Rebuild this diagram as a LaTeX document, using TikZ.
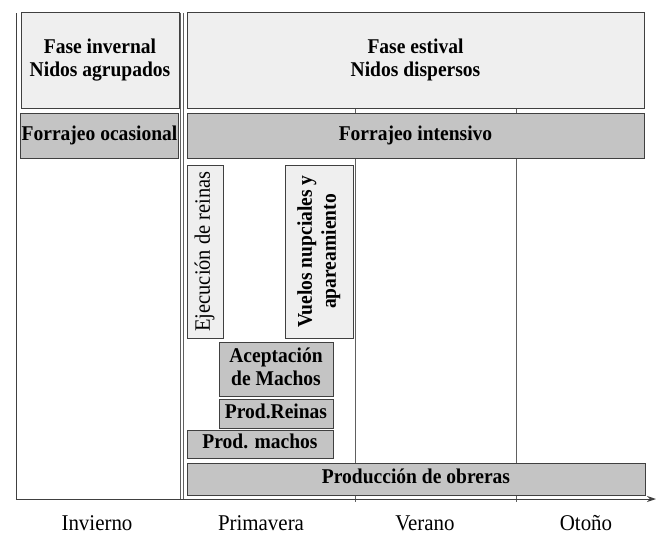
\documentclass[tikz,border=0pt]{standalone}
\usepackage{graphicx}
\usepackage{fontspec}
\setmainfont{Liberation Serif}
\usetikzlibrary{arrows.meta}
\definecolor{lightbox}{HTML}{EFEFEF}
\definecolor{graybox}{HTML}{C4C4C4}
\definecolor{edge}{HTML}{404040}
\definecolor{divider}{HTML}{606060}
\newcommand{\sqz}[1]{\scalebox{0.93}[1]{\begin{tabular}{@{}c@{}}#1\end{tabular}}}
\newcommand{\sqzl}[1]{\raisebox{-1.5pt}{\sqz{#1}}}
\tikzset{
  box/.style={draw=edge, line width=1pt, inner sep=0pt, align=center,
    font=\fontsize{21}{23}\selectfont\bfseries},
  lightfill/.style={box, fill=lightbox},
  grayfill/.style={box, fill=graybox},
  season/.style={inner sep=0pt, font=\fontsize{22.5}{25}\selectfont},
  divline/.style={draw=divider, line width=0.8pt},
}
\begin{document}
\begin{tikzpicture}[x=1pt,y=-1pt]
\useasboundingbox (0,0) rectangle (659,536);
% frame lines
\coordinate (ltop) at (16,13);
\coordinate (lbot) at (16,499);
\coordinate (d1top) at (180,13);
\coordinate (d1bot) at (180,499);
\coordinate (d2top) at (183,13);
\coordinate (d2bot) at (183,499);
\coordinate (vtop) at (355,108);
\coordinate (vbot) at (355,502);
\coordinate (otop) at (516,108);
\coordinate (obot) at (516,502);
\draw[divline, draw=edge] (ltop) -- (lbot);
\draw[divline] (d1top) -- (d1bot);
\draw[divline] (d2top) -- (d2bot);
\draw[divline] (vtop) -- (vbot);
\draw[divline] (otop) -- (obot);
% axis
\coordinate (ax0) at (16,499);
\coordinate (ax1) at (656,499);
\draw[draw=edge, line width=1pt, -{Stealth[length=9pt,width=6pt]}] (ax0) -- (ax1);
% top boxes
\node[lightfill, minimum width=158, minimum height=96] (invernal) at (100,60) {\sqz{Fase invernal\\Nidos agrupados}};
\node[grayfill, minimum width=158, minimum height=45] (ocasional) at (99.5,135.5) {\sqzl{Forrajeo ocasional}};
\node[lightfill, minimum width=457, minimum height=96] (estival) at (415.5,60) {\sqz{Fase estival\\Nidos dispersos}};
\node[grayfill, minimum width=457, minimum height=45] (intensivo) at (415.5,135.5) {\sqzl{Forrajeo intensivo}};
% spring events
\node[lightfill, minimum width=36, minimum height=173] (ejec) at (205,251.5) {};
\node[rotate=90, inner sep=0pt, font=\fontsize{22}{24}\selectfont] (eject) at (ejec.center) {\sqz{Ejecución de reinas}};
\node[lightfill, minimum width=68, minimum height=173] (vuelos) at (319,251.5) {};
\node[rotate=90, inner sep=0pt, align=center, font=\fontsize{21}{24}\selectfont\bfseries] (vuelost) at (vuelos.center) {\sqz{Vuelos nupciales y\\apareamiento}};
\node[grayfill, minimum width=114, minimum height=54] (acept) at (276,369) {\sqzl{Aceptación\\de Machos}};
\node[grayfill, minimum width=114, minimum height=29] (preinas) at (276,413.5) {\sqzl{Prod.Reinas}};
\node[grayfill, minimum width=146, minimum height=28] (pmachos) at (260,444) {\sqzl{Prod. machos}};
\node[grayfill, minimum width=458, minimum height=32] (obreras) at (416,479) {\sqzl{Producción de obreras}};
% season labels
\node[season] (inv) at (97,525) {\sqz{Invierno}};
\node[season] (pri) at (261,525) {\sqz{Primavera}};
\node[season] (ver) at (425,525) {\sqz{Verano}};
\node[season] (oto) at (586,525) {\sqz{Otoño}};
\end{tikzpicture}
\end{document}
